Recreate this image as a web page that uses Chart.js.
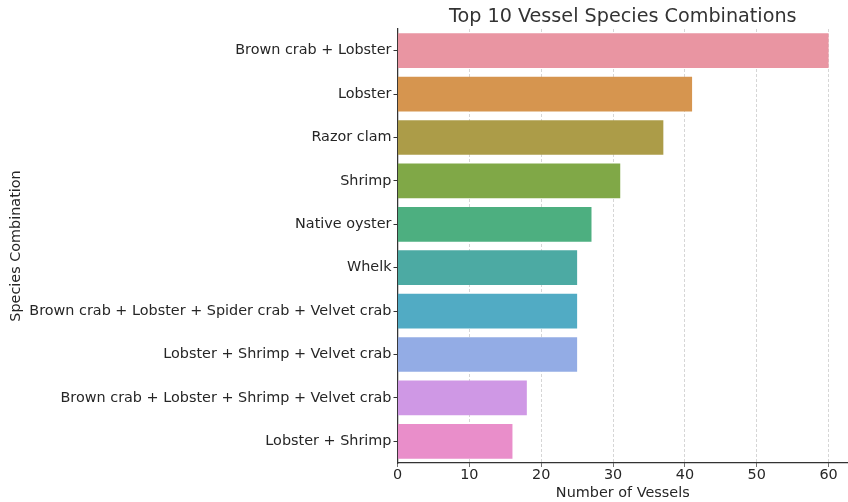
<!DOCTYPE html>
<html>
<head>
<meta charset="utf-8">
<script src="https://cdn.jsdelivr.net/npm/chart.js@4.4.1/dist/chart.umd.min.js"></script>
<style>
  html, body { margin: 0; padding: 0; background: #fff; }
  #wrap { width: 848px; height: 502px; }
</style>
</head>
<body>
<div id="wrap"><canvas id="chart" width="848" height="502"></canvas></div>
<script>
// Chart data
const categories = [
  'Brown crab + Lobster',
  'Lobster',
  'Razor clam',
  'Shrimp',
  'Native oyster',
  'Whelk',
  'Brown crab + Lobster + Spider crab + Velvet crab',
  'Lobster + Shrimp + Velvet crab',
  'Brown crab + Lobster + Shrimp + Velvet crab',
  'Lobster + Shrimp'
];
const vessels = [60, 41, 37, 31, 27, 25, 25, 25, 18, 16];
const barColors = ['#e995a2', '#d6954f', '#ac9c48', '#80a847', '#4daf80',
                   '#4caaa3', '#51abc4', '#93ace5', '#cf98e5', '#e98eca'];
const xTicks = [0, 10, 20, 30, 40, 50, 60];

const FONT = 'DejaVu Sans';
const TEXT = '#262626';

// Title centred over the plot area (like matplotlib)
const titlePlugin = {
  id: 'plotTitle',
  afterDraw(chart) {
    const { ctx, chartArea } = chart;
    ctx.save();
    ctx.font = `19.2px "${FONT}"`;
    ctx.fillStyle = '#333';
    ctx.textAlign = 'center';
    ctx.textBaseline = 'alphabetic';
    ctx.fillText('Top 10 Vessel Species Combinations', (chartArea.left + chartArea.right) / 2, 22);
    ctx.restore();
  }
};

new Chart(document.getElementById('chart'), {
  type: 'bar',
  data: {
    labels: categories,
    datasets: [{
      data: vessels,
      backgroundColor: barColors,
      borderWidth: 0,
      barPercentage: 0.8,
      categoryPercentage: 1.0
    }]
  },
  options: {
    indexAxis: 'y',
    responsive: false,
    animation: false,
    layout: { padding: { top: 29, right: 0, left: 0, bottom: 0 } },
    plugins: {
      legend: { display: false },
      tooltip: { enabled: false }
    },
    scales: {
      x: {
        min: 0,
        max: 62.7,
        afterBuildTicks: scale => { scale.ticks = xTicks.map(v => ({ value: v })); },
        afterFit: scale => { scale.height = 39; },
        border: { color: '#333', width: 1.25, dash: [3, 2] },
        grid: {
          color: '#cccccc',
          tickColor: '#333',
          tickBorderDash: [1, 0],
          tickLength: 4,
          lineWidth: 0.8
        },
        ticks: { color: TEXT, font: { family: FONT, size: 14.4 }, padding: 0 },
        title: {
          display: true,
          text: 'Number of Vessels',
          color: TEXT,
          font: { family: FONT, size: 14.4 },
          padding: { top: 0, bottom: 0 }
        }
      },
      y: {
        afterFit: scale => { scale.width = 397.5; },
        border: { color: '#333', width: 1.25 },
        grid: {
          offset: false,
          drawOnChartArea: false,
          tickColor: '#333',
          tickLength: 4
        },
        ticks: { color: TEXT, font: { family: FONT, size: 14.4 }, padding: 2, autoSkip: false },
        title: {
          display: true,
          text: 'Species Combination',
          color: TEXT,
          font: { family: FONT, size: 14.4 },
          padding: { top: 8, bottom: 0 }
        }
      }
    }
  },
  plugins: [titlePlugin]
});
</script>
</body>
</html>
